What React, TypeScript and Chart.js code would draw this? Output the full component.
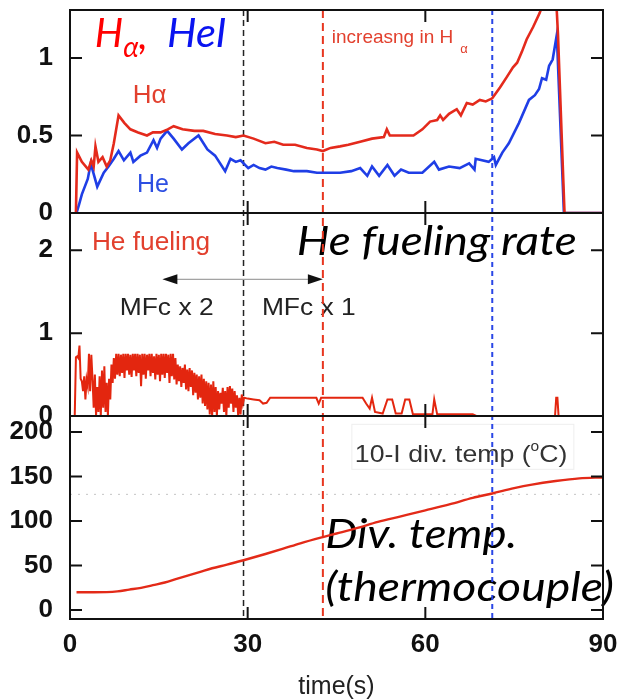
import { useEffect, useRef } from 'react';
import { Chart, registerables } from 'chart.js';

Chart.register(...registerables);

// ---------- data (time in s) ----------
const xTicks = [0, 30, 60, 90];
const lineTicks = [0, 0.5, 1];
const fuelTicks = [0, 1, 2];
const tempTicks = [0, 50, 100, 150, 200];
const markerTimes = [29.3, 42.7, 71.3];
const refTemp = 130;

const haSeries: [number, number][] = [
  [1.0, 0.0], [1.2, 0.39], [2.0, 0.33], [3.1, 0.28], [3.6, 0.34], [4.0, 0.3], [4.3, 0.43], [4.8, 0.33],
  [5.5, 0.36], [6.2, 0.3], [6.8, 0.34], [7.4, 0.45], [8.2, 0.63], [9.2, 0.58], [10.2, 0.54], [11.5, 0.52],
  [13.0, 0.5], [14.0, 0.52], [15.3, 0.52], [16.5, 0.54], [17.5, 0.56], [19.0, 0.54], [21.0, 0.53],
  [22.5, 0.53], [24.5, 0.51], [26.5, 0.5], [28.0, 0.49], [29.3, 0.5], [31.0, 0.48], [33.0, 0.45],
  [34.5, 0.46], [36.0, 0.44], [38.0, 0.44], [40.0, 0.42], [41.7, 0.41], [42.7, 0.4], [44.0, 0.42],
  [45.6, 0.43], [47.0, 0.44], [49.0, 0.46], [51.0, 0.48], [53.0, 0.49], [53.5, 0.54], [54.0, 0.5],
  [56.0, 0.5], [58.0, 0.5], [59.5, 0.54], [60.8, 0.59], [62.0, 0.6], [62.5, 0.63], [63.0, 0.6],
  [64.0, 0.64], [65.3, 0.67], [66.0, 0.63], [67.0, 0.71], [68.0, 0.7], [69.2, 0.73], [70.2, 0.72],
  [71.3, 0.74], [72.6, 0.81], [73.8, 0.88], [74.8, 0.94], [75.5, 0.97], [76.3, 1.04], [77.1, 1.12],
  [78.2, 1.2], [79.3, 1.29], [80.5, 1.42], [81.8, 1.5], [82.2, 1.3], [82.4, 1.15], [83.5, 0.0], [90.0, 0.0],
];

const heSeries: [number, number][] = [
  [1.1, 0.0], [1.5, 0.05], [2.0, 0.12], [3.0, 0.22], [3.5, 0.32], [4.6, 0.17], [5.7, 0.26], [6.5, 0.3],
  [7.4, 0.35], [8.2, 0.4], [9.1, 0.34], [10.2, 0.39], [10.7, 0.33], [11.9, 0.37], [13.0, 0.39], [14.1, 0.47],
  [14.7, 0.42], [15.3, 0.48], [16.4, 0.53], [17.5, 0.48], [18.9, 0.41], [20.0, 0.45], [21.7, 0.5],
  [23.2, 0.41], [24.5, 0.37], [26.2, 0.27], [27.1, 0.35], [28.0, 0.33], [28.8, 0.34], [30.1, 0.29],
  [31.0, 0.31], [32.0, 0.29], [33.0, 0.28], [34.0, 0.3], [35.0, 0.29], [36.5, 0.28], [37.8, 0.27],
  [40.0, 0.27], [41.7, 0.26], [42.7, 0.26], [45.6, 0.26], [47.5, 0.27], [49.0, 0.29], [50.2, 0.24],
  [51.0, 0.3], [52.2, 0.24], [53.6, 0.31], [54.8, 0.24], [55.9, 0.28], [57.2, 0.26], [59.5, 0.26],
  [61.5, 0.33], [62.3, 0.28], [64.0, 0.3], [65.8, 0.29], [67.4, 0.32], [68.3, 0.28], [68.5, 0.35],
  [70.7, 0.33], [71.6, 0.36], [71.9, 0.31], [73.0, 0.39], [74.1, 0.45], [75.8, 0.58], [77.5, 0.73],
  [78.5, 0.76], [79.2, 0.8], [79.7, 0.87], [80.4, 0.86], [80.9, 0.95], [81.5, 0.99], [82.2, 1.15],
  [83.4, 0.0], [90.0, 0.0],
];

const fuelSeries: [number, number][] = [
  [0.8, 0.0], [1.0, 0.71], [1.2, 0.72], [1.4, 0.7], [1.6, 0.85], [1.8, 0.45], [2.0, 0.42], [2.2, 0.3],
  [2.4, 0.48], [2.6, 0.2], [2.8, 0.44], [3.0, 0.36], [3.2, 0.75], [3.4, 0.3], [3.6, 0.74], [3.8, 0.45],
  [4.0, 0.1], [4.2, 0.5], [4.4, 0.0], [4.6, 0.35], [4.8, 0.05], [5.0, 0.48], [5.2, 0.0], [5.4, 0.55],
  [5.6, 0.1], [5.8, 0.6], [6.0, 0.05], [6.2, 0.4], [6.4, 0.0], [6.6, 0.45], [6.8, 0.2], [7.0, 0.62],
  [7.2, 0.4], [7.4, 0.7], [7.6, 0.45], [7.8, 0.75], [8.0, 0.5], [8.2, 0.75], [8.4, 0.48], [8.6, 0.74],
  [8.8, 0.52], [9.0, 0.75], [9.2, 0.46], [9.4, 0.75], [9.6, 0.55], [9.8, 0.75], [10.0, 0.5], [10.2, 0.74],
  [10.4, 0.47], [10.6, 0.75], [10.8, 0.55], [11.0, 0.75], [11.2, 0.48], [11.4, 0.75], [11.6, 0.52],
  [11.8, 0.74], [12.0, 0.36], [12.2, 0.75], [12.4, 0.5], [12.6, 0.75], [12.8, 0.45], [13.0, 0.74],
  [13.2, 0.55], [13.4, 0.75], [13.6, 0.48], [13.8, 0.75], [14.0, 0.52], [14.2, 0.72], [14.4, 0.44],
  [14.6, 0.75], [14.8, 0.5], [15.0, 0.74], [15.2, 0.42], [15.4, 0.75], [15.6, 0.5], [15.8, 0.75],
  [16.0, 0.46], [16.2, 0.75], [16.4, 0.52], [16.6, 0.74], [16.8, 0.4], [17.0, 0.75], [17.2, 0.48],
  [17.4, 0.75], [17.6, 0.44], [17.8, 0.7], [18.0, 0.38], [18.2, 0.62], [18.4, 0.42], [18.6, 0.6],
  [18.8, 0.35], [19.0, 0.58], [19.2, 0.4], [19.4, 0.62], [19.6, 0.32], [19.8, 0.56], [20.0, 0.3],
  [20.2, 0.58], [20.4, 0.35], [20.6, 0.55], [20.8, 0.25], [21.0, 0.52], [21.2, 0.28], [21.4, 0.5],
  [21.6, 0.2], [21.8, 0.48], [22.0, 0.22], [22.2, 0.5], [22.4, 0.15], [22.6, 0.45], [22.8, 0.12],
  [23.0, 0.42], [23.2, 0.08], [23.4, 0.4], [23.6, 0.02], [23.8, 0.38], [24.0, 0.0], [24.2, 0.42],
  [24.4, 0.05], [24.6, 0.35], [24.8, 0.0], [25.0, 0.3], [25.2, 0.08], [25.4, 0.28], [25.6, 0.15],
  [25.8, 0.34], [26.0, 0.05], [26.2, 0.3], [26.4, 0.0], [26.6, 0.35], [26.8, 0.1], [27.0, 0.36],
  [27.2, 0.15], [27.4, 0.33], [27.6, 0.05], [27.8, 0.3], [28.0, 0.1], [28.2, 0.25], [28.4, 0.0],
  [28.6, 0.22], [28.8, 0.02], [29.0, 0.26], [29.2, 0.15], [29.4, 0.22], [30.0, 0.21], [31.0, 0.2],
  [32.0, 0.19], [32.6, 0.15], [33.2, 0.16], [33.8, 0.22], [36.0, 0.22], [39.0, 0.22], [41.6, 0.22],
  [42.0, 0.15], [42.4, 0.22], [45.0, 0.22], [49.4, 0.22], [50.0, 0.15], [50.6, 0.09], [51.0, 0.22],
  [51.5, 0.05], [52.8, 0.03], [53.6, 0.2], [54.4, 0.2], [55.0, 0.03], [56.0, 0.03], [56.6, 0.2],
  [57.3, 0.2], [57.9, 0.02], [61.2, 0.02], [61.5, 0.2], [62.0, 0.02], [68.0, 0.02], [68.6, 0.0],
  [81.9, 0.0], [82.1, 0.22], [82.3, 0.22], [82.5, 0.0], [90.0, 0.0],
];

const tempSeries: [number, number][] = [
  [1.1, 20], [4, 20], [8, 21], [10, 23], [12, 25], [14, 28], [16, 31], [18, 35], [20, 39], [22, 43],
  [24, 47], [26.5, 51], [29.3, 56], [33, 63], [36, 69], [38.9, 75], [42.7, 82], [45, 86], [48.4, 92],
  [52, 99], [55.7, 105], [60, 112], [64.2, 119], [68, 126], [71.3, 131], [75, 137], [78, 141], [82, 145],
  [86, 148], [90, 149],
];

// ---------- styles ----------
const RED = '#e42a1c';
const BLUE = '#1f3ee6';
const TICK_FONT = { family: '"Liberation Sans", Arial, sans-serif', weight: 'bold' as const, size: 26, lineHeight: 1 };
const BIG = 'italic 40px Lato, "Open Sans", sans-serif';
const LBL = '"Liberation Sans", Arial, sans-serif';

function txt(ctx: CanvasRenderingContext2D, s: string, x: number, y: number, font: string, color: string, sx = 1) {
  ctx.save();
  ctx.font = font;
  ctx.fillStyle = color;
  ctx.textAlign = 'left';
  ctx.textBaseline = 'alphabetic';
  ctx.translate(x, y);
  ctx.scale(sx, 1);
  ctx.fillText(s, 0, 0);
  const w = ctx.measureText(s).width * sx;
  ctx.restore();
  return w;
}

const toXY = (arr: [number, number][]) => arr.map(([x, y]) => ({ x, y }));

const overlay = {
  id: 'overlay',
  beforeDatasetsDraw(chart: any) {
    const ctx: CanvasRenderingContext2D = chart.ctx;
    const { left, right, top, bottom } = chart.chartArea;
    const xs = chart.scales.x;
    const y1 = chart.scales.yLine;
    const y2 = chart.scales.yFuel;
    const y3 = chart.scales.yTemp;
    const X = (t: number) => xs.getPixelForValue(t);
    ctx.save();

    // reference temperature dotted line
    ctx.strokeStyle = '#c4c4c4';
    ctx.lineWidth = 1;
    ctx.setLineDash([2, 6]);
    const yr = y3.getPixelForValue(refTemp);
    ctx.beginPath();
    ctx.moveTo(left, yr);
    ctx.lineTo(right, yr);
    ctx.stroke();
    ctx.setLineDash([]);

    // panel 1 texts
    let bx = X(4.2);
    const by = y1.getPixelForValue(1.07);
    bx += txt(ctx, 'H', bx, by, BIG, '#ff0000');
    bx += txt(ctx, 'α', bx, by + 10, 'italic 28px Lato, "DejaVu Sans", sans-serif', '#ff0000');
    txt(ctx, ',', bx, by + 2, BIG, '#ff0000');
    txt(ctx, 'HeI', X(16.4), by, BIG, '#0a14f0', 1.04);

    txt(ctx, 'Hα', X(10.6), y1.getPixelForValue(0.71), `25px ${LBL}`, '#e2402e', 1.04);
    txt(ctx, 'He', X(11.3), y1.getPixelForValue(0.135), `25px ${LBL}`, '#2d4fe2');
    const ix = X(44.2);
    const iy = y1.getPixelForValue(1.1);
    const iw = txt(ctx, 'increasng in H', ix, iy, `19px ${LBL}`, '#e2402e');
    txt(ctx, 'α', ix + iw + 7, iy + 10, `13px ${LBL}`, '#e2402e');

    // panel 2 texts
    txt(ctx, 'He fueling', X(3.7), y2.getPixelForValue(2.0), `25px ${LBL}`, '#e2402e', 1.05);
    txt(ctx, 'He fueling rate', X(38.3), y2.getPixelForValue(1.94), BIG, '#000', 1.15);
    txt(ctx, 'MFc x 2', X(8.4), y2.getPixelForValue(1.22), `24px ${LBL}`, '#222', 1.1);
    txt(ctx, 'MFc x 1', X(32.4), y2.getPixelForValue(1.22), `24px ${LBL}`, '#222', 1.1);

    // double arrow
    const ay = y2.getPixelForValue(1.65);
    const ax0 = X(15.6);
    const ax1 = X(42.7);
    ctx.strokeStyle = '#8a8a8a';
    ctx.lineWidth = 1;
    ctx.beginPath();
    ctx.moveTo(ax0 + 8, ay);
    ctx.lineTo(ax1 - 8, ay);
    ctx.stroke();
    ctx.fillStyle = '#111';
    ctx.beginPath();
    ctx.moveTo(ax0, ay); ctx.lineTo(ax0 + 15, ay - 5); ctx.lineTo(ax0 + 15, ay + 5); ctx.closePath(); ctx.fill();
    ctx.beginPath();
    ctx.moveTo(ax1, ay); ctx.lineTo(ax1 - 15, ay - 5); ctx.lineTo(ax1 - 15, ay + 5); ctx.closePath(); ctx.fill();

    // panel 3 texts
    const tx = X(48.1);
    const ty = y3.getPixelForValue(166);
    ctx.fillStyle = '#ffffff';
    ctx.strokeStyle = 'rgba(0,0,0,0.07)';
    ctx.lineWidth = 1;
    ctx.fillRect(tx - 3, ty - 38, 222, 45);
    ctx.strokeRect(tx - 3, ty - 38, 222, 45);
    let tw = txt(ctx, '10-I div. temp (', tx, ty, `24px ${LBL}`, '#333', 1.11);
    tw += txt(ctx, 'o', tx + tw, ty - 11, `14px ${LBL}`, '#333', 1.11);
    txt(ctx, 'C)', tx + tw, ty, `24px ${LBL}`, '#333', 1.11);
    txt(ctx, 'Div. temp.', X(43.1), y3.getPixelForValue(70), BIG, '#000', 1.14);
    txt(ctx, '(thermocouple)', X(43.1), y3.getPixelForValue(10), BIG, '#000', 1.16);

    // vertical marker lines
    const mStyles = [
      { c: '#222', w: 1.5, d: [6, 4] },
      { c: '#e8361f', w: 2, d: [8, 5] },
      { c: '#2a46e6', w: 2, d: [5, 4] },
    ];
    markerTimes.forEach((t, i) => {
      const s = mStyles[i];
      ctx.strokeStyle = s.c;
      ctx.lineWidth = s.w;
      ctx.setLineDash(s.d);
      ctx.beginPath();
      ctx.moveTo(X(t), top);
      ctx.lineTo(X(t), bottom);
      ctx.stroke();
    });
    ctx.setLineDash([]);
    ctx.restore();
  },
  afterDatasetsDraw(chart: any) {
    const ctx: CanvasRenderingContext2D = chart.ctx;
    const { left, right } = chart.chartArea;
    const xs = chart.scales.x;
    const panels = [
      { s: chart.scales.yLine, t: lineTicks },
      { s: chart.scales.yFuel, t: fuelTicks },
      { s: chart.scales.yTemp, t: tempTicks },
    ];
    const L = 12;
    ctx.save();
    ctx.strokeStyle = '#111';
    ctx.lineWidth = 2;
    panels.forEach(({ s, t }) => {
      ctx.strokeRect(left, s.top, right - left, s.bottom - s.top);
      ctx.beginPath();
      t.forEach((v) => {
        const y = s.getPixelForValue(v);
        ctx.moveTo(left, y); ctx.lineTo(left + L, y);
        ctx.moveTo(right, y); ctx.lineTo(right - L, y);
      });
      xTicks.slice(1, -1).forEach((v) => {
        const x = xs.getPixelForValue(v);
        ctx.moveTo(x, s.top); ctx.lineTo(x, s.top + L);
        ctx.moveTo(x, s.bottom); ctx.lineTo(x, s.bottom - L);
      });
      ctx.stroke();
    });
    ctx.restore();
  },
};

function yAxis(min: number, max: number, ticks: number[]) {
  return {
    type: 'linear' as const,
    position: 'left' as const,
    stack: 'panels',
    stackWeight: 1,
    min,
    max,
    grid: { display: false, drawTicks: false },
    border: { display: false },
    afterBuildTicks: (s: any) => { s.ticks = ticks.map((value) => ({ value })); },
    afterFit: (s: any) => { s.width = 62; s.paddingTop = 0; s.paddingBottom = 0; },
    ticks: {
      callback: (v: any) => String(v),
      font: TICK_FONT,
      color: '#111',
      padding: 17,
      autoSkip: false,
    },
  };
}

export default function App() {
  const ref = useRef<HTMLCanvasElement>(null);
  useEffect(() => {
    if (!ref.current) return;
    const chart = new Chart(ref.current, {
      type: 'line',
      data: {
        datasets: [
          { label: 'Hα', data: toXY(haSeries), yAxisID: 'yLine', borderColor: RED, borderWidth: 2.6, pointRadius: 0, tension: 0 },
          { label: 'He', data: toXY(heSeries), yAxisID: 'yLine', borderColor: BLUE, borderWidth: 2.6, pointRadius: 0, tension: 0 },
          { label: 'He fueling', data: toXY(fuelSeries), yAxisID: 'yFuel', borderColor: '#e3260f', borderWidth: 2, pointRadius: 0, tension: 0 },
          { label: 'Div. temp', data: toXY(tempSeries), yAxisID: 'yTemp', borderColor: '#e32a18', borderWidth: 2.4, pointRadius: 0, cubicInterpolationMode: 'monotone' },
        ],
      },
      options: {
        responsive: false,
        animation: false,
        devicePixelRatio: 1,
        layout: { padding: { left: 8, right: 14, top: 10, bottom: 0 } },
        plugins: { legend: { display: false }, tooltip: { enabled: false } },
        scales: {
          x: {
            type: 'linear',
            position: 'bottom',
            min: 0,
            max: 90,
            grid: { display: false, drawTicks: false },
            border: { display: false },
            afterBuildTicks: (s: any) => { s.ticks = xTicks.map((value) => ({ value })); },
            afterFit: (s: any) => { s.height = 81; s.paddingLeft = 0; s.paddingRight = 0; },
            ticks: { callback: (v: any) => String(v), font: TICK_FONT, color: '#111', padding: 13, maxRotation: 0, autoSkip: false },
            title: {
              display: true,
              text: 'time(s)',
              font: { family: '"Liberation Sans", Arial, sans-serif', size: 25, lineHeight: 1 },
              color: '#222',
              padding: { top: 0, bottom: 0 },
            },
          },
          yTemp: yAxis(-10, 218, tempTicks),
          yFuel: yAxis(0, 2.45, fuelTicks),
          yLine: yAxis(0, 1.31, lineTicks),
        } as any,
      },
      plugins: [overlay],
    });
    return () => chart.destroy();
  }, []);
  return (
    <div style={{ position: 'fixed', left: 0, top: 0, width: 617, height: 700, background: '#fff' }}>
      <canvas ref={ref} width={617} height={700} style={{ display: 'block' }} />
    </div>
  );
}
